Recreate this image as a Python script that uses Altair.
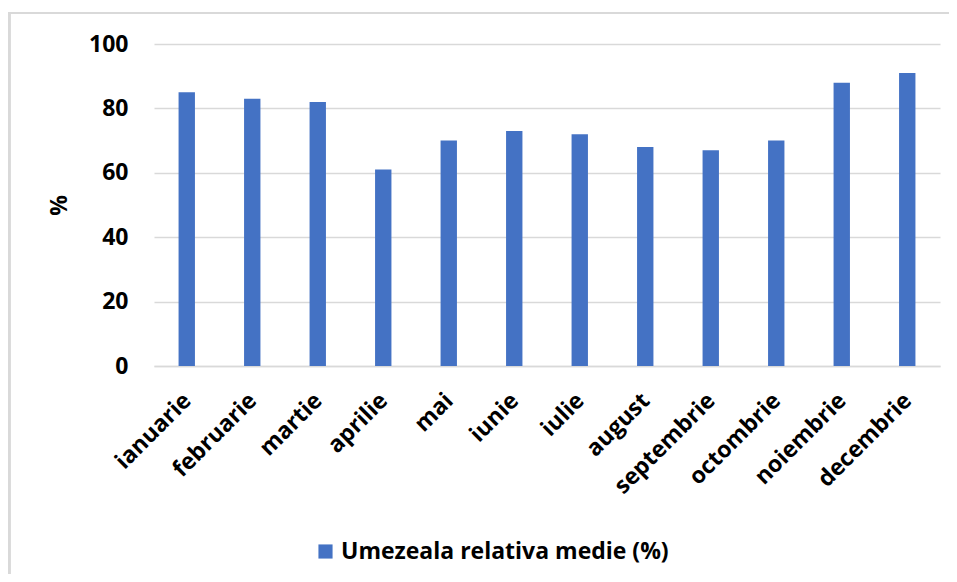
import altair as alt
import pandas as pd

months = ["ianuarie", "februarie", "martie", "aprilie", "mai", "iunie",
          "iulie", "august", "septembrie", "octombrie", "noiembrie", "decembrie"]
values = [85, 83, 82, 61, 70, 73, 72, 68, 67, 70, 88, 91]
series_name = "Umezeala relativa medie (%)"

df = pd.DataFrame({"luna": months, "valoare": values, "serie": [series_name] * len(months)})

FONT = "Open Sans"
BLUE = "#4472C4"
GRID = "#d9d9d9"
FS = 23

bars = alt.Chart(df).mark_bar(color=BLUE).encode(
    x=alt.X("luna:N", sort=months, title=None,
            scale=alt.Scale(paddingInner=0.75, paddingOuter=0.375),
            axis=alt.Axis(labelAngle=-45, labelFontSize=FS, labelFontWeight="bold",
                          labelFont=FONT, labelColor="#000000", ticks=False,
                          domainColor=GRID, domainWidth=1.5, labelPadding=23,
                          labelOffset=-7)),
    y=alt.Y("valoare:Q", title="%",
            scale=alt.Scale(domain=[0, 100]),
            axis=alt.Axis(values=[0, 20, 40, 60, 80, 100], labelFontSize=FS,
                          labelFontWeight="bold", labelFont=FONT, labelColor="#000000",
                          ticks=False, domain=False, gridColor=GRID, gridWidth=1.5,
                          labelPadding=26, titleFont=FONT, titleFontSize=FS,
                          titleFontWeight="bold", titleColor="#000000",
                          titleX=-83, titleY=161, titleAngle=-90)),
    color=alt.Color("serie:N", scale=alt.Scale(range=[BLUE]),
                    legend=alt.Legend(title=None, orient="none", legendX=160, legendY=496,
                                      symbolType="square", symbolSize=200,
                                      symbolStrokeWidth=0,
                                      labelFont=FONT, labelFontSize=FS,
                                      labelFontWeight="bold", labelColor="#000000",
                                      labelLimit=500)),
)

border_top = alt.Chart(df).mark_rule(color=GRID, strokeWidth=2).encode(
    x=alt.value(-146), x2=alt.value(810), y=alt.value(-31))
border_left = alt.Chart(df).mark_rule(color=GRID, strokeWidth=2.5).encode(
    x=alt.value(-145), y=alt.value(-31), y2=alt.value(540))

chart = alt.layer(border_top, border_left, bars).properties(
    width=786, height=322,
    autosize=alt.AutoSizeParams(type="none"),
    padding={"left": 146, "top": 36, "right": 9, "bottom": 208},
).configure_view(stroke=None)

chart.save("out.html", embed_options={"renderer": "svg", "actions": False})
